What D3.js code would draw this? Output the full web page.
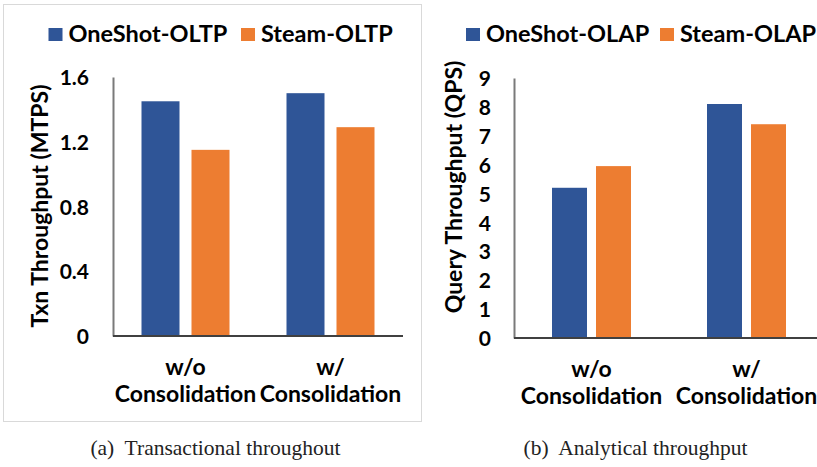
<!DOCTYPE html>
<html>
<head>
<meta charset="utf-8">
<script src="https://cdn.jsdelivr.net/npm/d3@7"></script>
<style>
  html, body { margin: 0; padding: 0; background: #fff; }
  svg { display: block; }
  .lbl { font-family: Lato, "Open Sans", sans-serif; font-weight: 700; fill: #000; }
  .cap { font-family: "Liberation Serif", "DejaVu Serif", serif; fill: #222; white-space: pre; }
</style>
</head>
<body>
<script>
// ---------- data ----------
const catLine1 = ["w/o", "w/"];
const catLine2 = ["Consolidation", "Consolidation"];
const categories = ["w/o Consolidation", "w/ Consolidation"];

const oltpSeries = ["OneShot-OLTP", "Steam-OLTP"];
const oltpOneShot = [1.45, 1.50];
const oltpSteam = [1.15, 1.29];
const oltpTicks = [0, 0.4, 0.8, 1.2, 1.6];
const oltpTickLabels = ["0", "0.4", "0.8", "1.2", "1.6"];

const olapSeries = ["OneShot-OLAP", "Steam-OLAP"];
const olapOneShot = [5.2, 8.1];
const olapSteam = [5.95, 7.4];
const olapTicks = [0, 1, 2, 3, 4, 5, 6, 7, 8, 9];
const olapTickLabels = ["0", "1", "2", "3", "4", "5", "6", "7", "8", "9"];

const captions = ["(a)  Transactional throughout", "(b)  Analytical throughput"];
const yTitles = ["Txn Throughput (MTPS)", "Query Throughput (QPS)"];
const colors = ["#2F5597", "#ED7D31"];

// ---------- drawing ----------
const W = 817, H = 467;
const svg = d3.select("body").append("svg").attr("width", W).attr("height", H);

// light frame around left panel
svg.append("rect").attr("x", 3.5).attr("y", 4.5).attr("width", 418).attr("height", 417)
  .attr("fill", "none").attr("stroke", "#d9d9d9").attr("stroke-width", 1);

function panel(cfg) {
  const g = svg.append("g");
  const x = d3.scaleBand().domain(categories).range([cfg.x0, cfg.x1]).paddingInner(0).paddingOuter(0);
  const xs = d3.scaleBand().domain(cfg.series).range(cfg.subRange).paddingInner(cfg.subPad).paddingOuter(0);
  const y = d3.scaleLinear().domain(cfg.yDomain).range([cfg.yBottom, cfg.yTop]);

  const rows = categories.map((c, i) => ({ cat: c, vals: [cfg.a[i], cfg.b[i]] }));
  rows.forEach(r => {
    r.vals.forEach((v, j) => {
      g.append("rect")
        .attr("x", x(r.cat) + xs(cfg.series[j]))
        .attr("width", xs.bandwidth())
        .attr("y", y(v))
        .attr("height", y(0) - y(v))
        .attr("fill", colors[j]);
    });
  });

  // y axis
  const ya = g.append("g").attr("transform", `translate(${cfg.x0},0)`)
    .call(d3.axisLeft(y).tickValues(cfg.ticks).tickFormat((d, i) => cfg.tickLabels[i]).tickSize(0).tickPadding(cfg.tickPad));
  ya.select(".domain").attr("stroke", "#7a7a7a").attr("stroke-width", 2);
  ya.selectAll("text").attr("class", "lbl").style("font-size", cfg.tickFont + "px").attr("dy", "0.36em");

  // x axis
  const xa = g.append("g").attr("transform", `translate(0,${cfg.yBottom})`)
    .call(d3.axisBottom(x).tickSize(0).tickFormat(() => ""));
  xa.select(".domain").attr("stroke", "#404040").attr("stroke-width", 2)
    .attr("d", `M${cfg.x0},0H${cfg.x1}`);
  xa.selectAll(".tick text").remove();
  xa.selectAll(".tick").each(function(d, i) {
    d3.select(this).append("text").attr("class", "lbl").attr("text-anchor", "middle")
      .style("font-size", cfg.catFont + "px").attr("x", 0).attr("y", 39).text(catLine1[i]);
    d3.select(this).append("text").attr("class", "lbl").attr("text-anchor", "middle")
      .style("font-size", cfg.catFont + "px").attr("x", 0).attr("y", 66).text(catLine2[i]);
  });

  // y title
  g.append("text").attr("class", "lbl").attr("text-anchor", "middle")
    .attr("transform", `translate(${cfg.titleX},${cfg.titleY}) rotate(-90)`)
    .style("font-size", cfg.titleFont + "px").text(cfg.title);

  // legend
  cfg.series.forEach((s, j) => {
    g.append("rect").attr("x", cfg.legX[j]).attr("y", 28).attr("width", 14).attr("height", 13).attr("fill", colors[j]);
    g.append("text").attr("class", "lbl").attr("x", cfg.legX[j] + 20).attr("y", 41.5)
      .style("font-size", cfg.legFont + "px").text(s);
  });

  // caption
  svg.append("text").attr("class", "cap").attr("x", cfg.capX).attr("y", 455)
    .attr("text-anchor", "middle").style("font-size", "21.5px").text(cfg.caption);
}

panel({
  x0: 113, x1: 403, yTop: 77, yBottom: 336, yDomain: [0, 1.6],
  series: oltpSeries, a: oltpOneShot, b: oltpSteam,
  subRange: [28.5, 116.5], subPad: 0.24,
  ticks: oltpTicks, tickLabels: oltpTickLabels, tickPad: 24, tickFont: 21,
  catFont: 23, title: yTitles[0], titleX: 48, titleY: 206, titleFont: 23,
  legX: [48.5, 241], legFont: 23.5, caption: captions[0], capX: 215.5
});

panel({
  x0: 514, x1: 824, yTop: 78, yBottom: 338, yDomain: [0, 9],
  series: olapSeries, a: olapOneShot, b: olapSteam,
  subRange: [38, 117], subPad: 0.2045,
  ticks: olapTicks, tickLabels: olapTickLabels, tickPad: 23, tickFont: 21,
  catFont: 23, title: yTitles[1], titleX: 462, titleY: 187, titleFont: 23,
  legX: [466, 660], legFont: 23.5, caption: captions[1], capX: 635.5
});
</script>
</body>
</html>
